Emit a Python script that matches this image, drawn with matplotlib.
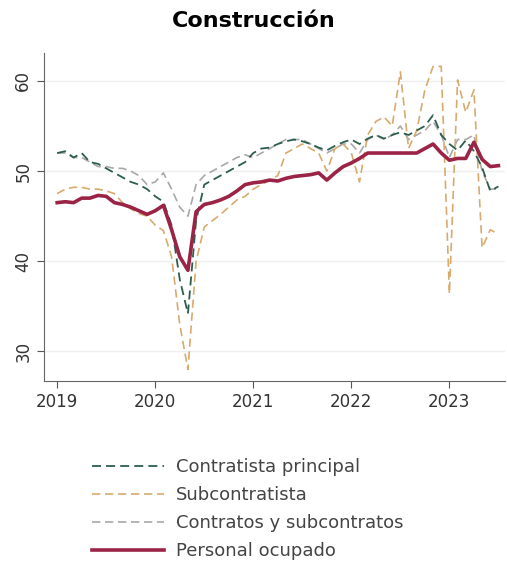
import matplotlib
matplotlib.use("Agg")
import numpy as np
import matplotlib.pyplot as plt

plt.rcParams['font.family'] = ['DejaVu Sans']

# monthly, Jan 2019 .. Jul 2023
months = np.arange(55)
year_ticks = [0, 12, 24, 36, 48]
year_labels = ['2019', '2020', '2021', '2022', '2023']

contratista = [52.0, 52.2, 51.5, 52.0, 51.0, 50.8, 50.3, 49.8, 49.3, 48.8, 48.5, 48.0,
               47.2, 46.6, 44.0, 38.0, 34.2, 44.5, 48.5, 49.0, 49.5, 50.0, 50.5, 51.0,
               52.0, 52.5, 52.6, 53.0, 53.3, 53.5, 53.3, 53.0, 52.6, 52.3, 52.8, 53.2,
               53.5, 53.0, 53.6, 54.0, 53.6, 54.0, 54.3, 54.0, 54.5, 55.0, 56.2, 54.0,
               53.0, 52.3, 53.4, 52.2, 50.4, 47.8, 48.3]

subcontratista = [47.5, 48.0, 48.2, 48.2, 48.0, 48.0, 47.8, 47.5, 46.5, 45.8, 45.3, 45.0,
                  44.0, 43.4, 40.5, 33.0, 28.0, 40.0, 43.8, 44.5, 45.2, 46.0, 46.8, 47.2,
                  48.0, 48.5, 49.0, 49.5, 52.0, 52.5, 53.0, 52.5, 52.0, 50.0, 52.5, 53.0,
                  52.0, 48.8, 54.0, 55.5, 56.0, 55.0, 61.0, 52.5, 54.5, 59.0, 61.6, 61.6,
                  36.4, 60.1, 56.5, 59.0, 41.5, 43.5, 43.0]

contratos_sub = [52.0, 52.0, 51.5, 51.5, 51.0, 50.5, 50.5, 50.3, 50.3, 50.0, 49.5, 48.5,
                 48.8, 49.8, 48.0, 46.0, 45.0, 48.5, 49.5, 50.0, 50.5, 51.0, 51.5, 51.8,
                 51.5, 52.0, 52.5, 53.0, 53.5, 53.5, 53.5, 53.0, 52.5, 52.0, 52.5, 53.0,
                 53.0, 52.0, 53.5, 54.0, 53.5, 54.0, 55.0, 53.5, 54.0, 54.5, 55.5, 54.0,
                 51.5, 53.5, 53.5, 54.0, 50.0, 48.0, 48.0]

personal = [46.5, 46.6, 46.5, 47.0, 47.0, 47.3, 47.2, 46.5, 46.3, 46.0, 45.6, 45.2,
            45.6, 46.2, 43.5, 40.5, 39.0, 45.5, 46.3, 46.5, 46.8, 47.2, 47.8, 48.5,
            48.7, 48.8, 49.0, 48.9, 49.2, 49.4, 49.5, 49.6, 49.8, 49.0, 49.8, 50.5,
            50.9, 51.4, 52.0, 52.0, 52.0, 52.0, 52.0, 52.0, 52.0, 52.5, 53.0, 52.0,
            51.2, 51.4, 51.4, 53.2, 51.3, 50.5, 50.6]

fig = plt.figure(figsize=(5.07, 5.69), dpi=100)
ax = fig.add_axes([0.087, 0.330, 0.909, 0.577])

dash = (0, (5, 2.8))
ax.plot(months, contratos_sub, color='#a8a8a8', lw=1.2, ls=dash, label='Contratos y subcontratos')
ax.plot(months, subcontratista, color='#d9aa6e', lw=1.2, ls=dash, label='Subcontratista')
ax.plot(months, contratista, color='#2c5e50', lw=1.3, ls=dash, label='Contratista principal')
ax.plot(months, personal, color='#9b2446', lw=2.6, label='Personal ocupado')

ax.set_xlim(-1.6, 54.8)
ax.set_ylim(26.7, 63.1)
ax.set_xticks(year_ticks)
ax.set_xticklabels(year_labels)
ax.set_yticks([30, 40, 50, 60])
ax.set_yticklabels(['30', '40', '50', '60'], rotation=90, va='center')
ax.tick_params(labelsize=12, colors='#555555', labelcolor='#333333', length=5)
ax.yaxis.grid(True, color='#efefef', lw=1)
ax.set_axisbelow(True)
for s in ['top', 'right']:
    ax.spines[s].set_visible(False)
for s in ['left', 'bottom']:
    ax.spines[s].set_color('#666666')

fig.text(0.5, 0.963, 'Construcción', ha='center', va='center', fontsize=16, fontweight='bold')

h, l = ax.get_legend_handles_labels()
order = [2, 1, 0, 3]
fig.legend([h[i] for i in order], [l[i] for i in order], loc='upper left',
           bbox_to_anchor=(0.181, 0.195), bbox_transform=fig.transFigure,
           frameon=False, fontsize=13, handlelength=4.0, labelspacing=0.55,
           handletextpad=0.65, borderaxespad=0, borderpad=0, labelcolor='#444444')

fig.savefig('out.png', dpi=100)
